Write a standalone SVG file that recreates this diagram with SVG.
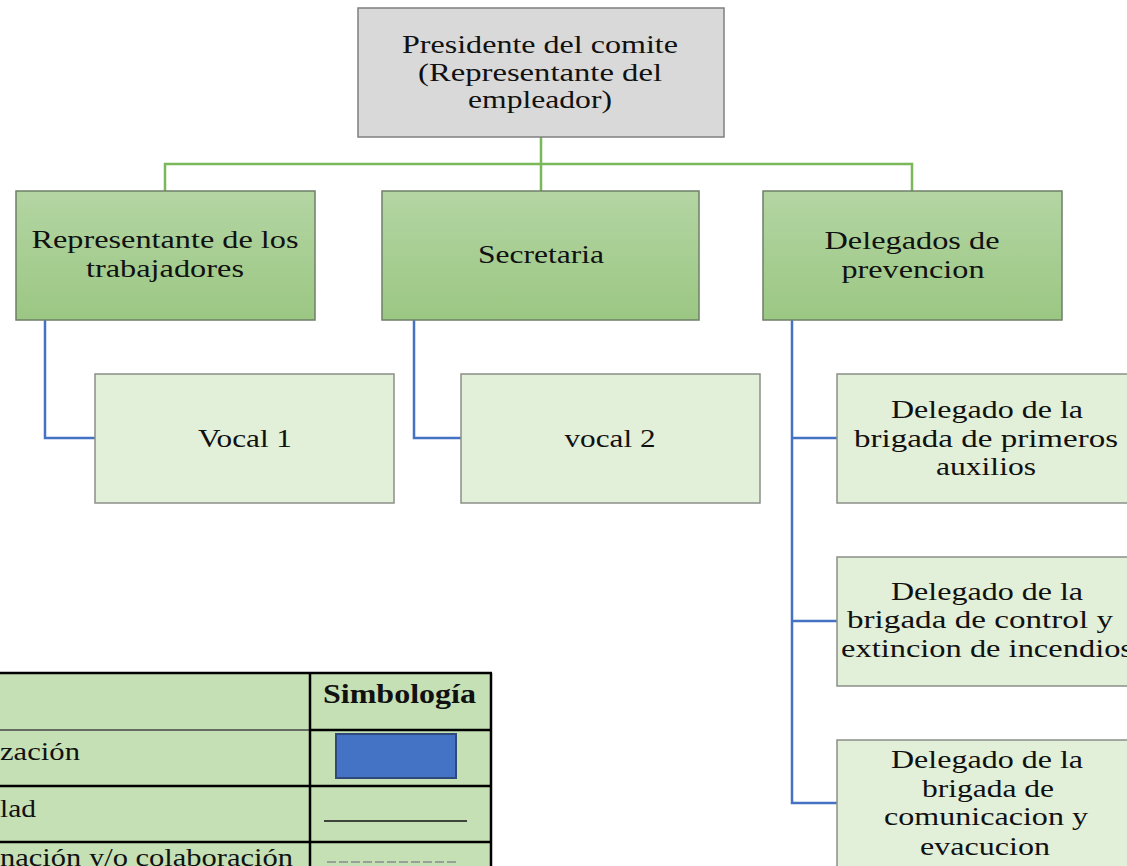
<svg xmlns="http://www.w3.org/2000/svg" width="1127" height="866" viewBox="0 0 1127 866" font-family="'Liberation Serif', serif">
<defs>
<linearGradient id="g2" x1="0" y1="0" x2="0" y2="1">
<stop offset="0" stop-color="#b4d5a3"/>
<stop offset="1" stop-color="#9bc783"/>
</linearGradient>
<style>
text{font-family:'Liberation Serif','Times New Roman',serif;font-size:26px;fill:#111;}
.c{text-anchor:middle;}
.top{fill:#d9d9d9;stroke:#7f7f7f;stroke-width:1.5;}
.l2{fill:url(#g2);stroke:#6f7f68;stroke-width:1.5;}
.l3{fill:#e2efd9;stroke:#8a8f88;stroke-width:1.5;}
.gl{fill:none;stroke:#7ab85a;stroke-width:2.5;}
.bl{fill:none;stroke:#4472c4;stroke-width:2.5;}
.tb{stroke:#000;stroke-width:2.5;}
</style>
</defs>
<rect width="1127" height="866" fill="#fff"/>

<g id="connectors">
<path class="gl" d="M541,137 V191 M165,191 V164 H912 V191"/>
<path class="bl" d="M45,320 V438 H95"/>
<path class="bl" d="M414,320 V438 H461"/>
<path class="bl" d="M792,320 V803 H837 M792,438 H837 M792,621 H837"/>
</g>

<g id="presidente">
<rect class="top" x="358" y="8" width="366" height="129"/>
<text class="c" x="540" y="53" textLength="276" lengthAdjust="spacingAndGlyphs">Presidente del comite</text>
<text class="c" x="540" y="81" textLength="244" lengthAdjust="spacingAndGlyphs">(Representante del</text>
<text class="c" x="540" y="108" textLength="144" lengthAdjust="spacingAndGlyphs">empleador)</text>
</g>

<g id="representante">
<rect class="l2" x="16" y="191" width="299" height="129"/>
<text class="c" x="165" y="248" textLength="267" lengthAdjust="spacingAndGlyphs">Representante de los</text>
<text class="c" x="165" y="277" textLength="158" lengthAdjust="spacingAndGlyphs">trabajadores</text>
</g>

<g id="secretaria">
<rect class="l2" x="382" y="191" width="317" height="129"/>
<text class="c" x="541" y="263" textLength="126" lengthAdjust="spacingAndGlyphs">Secretaria</text>
</g>

<g id="delegados">
<rect class="l2" x="763" y="191" width="299" height="129"/>
<text class="c" x="912" y="249" textLength="175" lengthAdjust="spacingAndGlyphs">Delegados de</text>
<text class="c" x="913" y="278" textLength="143" lengthAdjust="spacingAndGlyphs">prevencion</text>
</g>

<g id="vocal1">
<rect class="l3" x="95" y="374" width="299" height="129"/>
<text class="c" x="245" y="447" textLength="94" lengthAdjust="spacingAndGlyphs">Vocal 1</text>
</g>

<g id="vocal2">
<rect class="l3" x="461" y="374" width="299" height="129"/>
<text class="c" x="610" y="447" textLength="91" lengthAdjust="spacingAndGlyphs">vocal 2</text>
</g>

<g id="primeros-auxilios">
<rect class="l3" x="837" y="374" width="300" height="129"/>
<text class="c" x="987" y="418" textLength="192" lengthAdjust="spacingAndGlyphs">Delegado de la</text>
<text class="c" x="986" y="447" textLength="264" lengthAdjust="spacingAndGlyphs">brigada de  primeros</text>
<text class="c" x="986" y="475" textLength="100" lengthAdjust="spacingAndGlyphs">auxilios</text>
</g>

<g id="incendios">
<rect class="l3" x="837" y="557" width="300" height="129"/>
<text class="c" x="987" y="600" textLength="192" lengthAdjust="spacingAndGlyphs">Delegado de la</text>
<text class="c" x="980" y="628" textLength="266" lengthAdjust="spacingAndGlyphs">brigada de control y</text>
<text class="c" x="987" y="657" textLength="292" lengthAdjust="spacingAndGlyphs">extincion de incendios</text>
</g>

<g id="comunicacion">
<rect class="l3" x="837" y="740" width="300" height="140"/>
<text class="c" x="987" y="768" textLength="192" lengthAdjust="spacingAndGlyphs">Delegado de la</text>
<text class="c" x="988" y="797" textLength="132" lengthAdjust="spacingAndGlyphs">brigada de</text>
<text class="c" x="986" y="825" textLength="204" lengthAdjust="spacingAndGlyphs">comunicacion y</text>
<text class="c" x="985" y="855" textLength="130" lengthAdjust="spacingAndGlyphs">evacucion</text>
</g>

<g id="legend">
<rect x="-10" y="673" width="501" height="210" fill="#c5e0b4"/>
<line class="tb" x1="-10" y1="673" x2="492" y2="673"/>
<line x1="-10" y1="730" x2="310" y2="730" stroke="#444" stroke-width="1.5"/>
<line class="tb" x1="310" y1="730" x2="492" y2="730"/>
<line class="tb" x1="-10" y1="786" x2="492" y2="786"/>
<line class="tb" x1="-10" y1="842" x2="492" y2="842"/>
<line class="tb" x1="310" y1="673" x2="310" y2="880"/>
<line class="tb" x1="491" y1="673" x2="491" y2="880"/>
<text x="323" y="703" font-weight="bold" style="font-size:27px" textLength="153" lengthAdjust="spacingAndGlyphs">Simbología</text>
<rect x="336" y="734" width="120" height="44" fill="#4472c4" stroke="#2f4a7a" stroke-width="2"/>
<text x="0" y="760" textLength="80" lengthAdjust="spacingAndGlyphs">zación</text>
<text x="0" y="817" textLength="36" lengthAdjust="spacingAndGlyphs">lad</text>
<line x1="324" y1="821" x2="467" y2="821" stroke="#111" stroke-width="1.5"/>
<text x="0" y="866" textLength="293" lengthAdjust="spacingAndGlyphs">nación y/o colaboración</text>
<line x1="327" y1="862" x2="457" y2="862" stroke="#8a8a8a" stroke-width="1.5" stroke-dasharray="9,3"/>
</g>
</svg>
